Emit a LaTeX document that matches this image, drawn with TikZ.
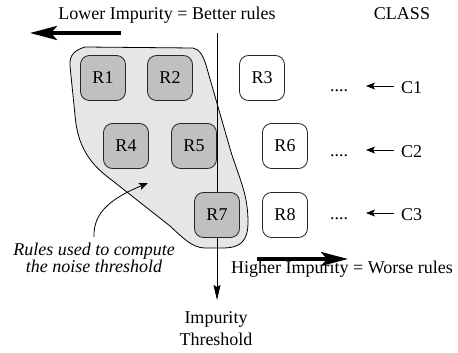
\documentclass[tikz,border=0pt]{standalone}
\usepackage{fontspec}
\setmainfont{Liberation Serif}
\usetikzlibrary{arrows.meta}
\definecolor{blobgray}{HTML}{E6E6E6}
\definecolor{boxgray}{HTML}{C0C0C0}
\begin{document}
\begin{tikzpicture}[x=1pt,y=-1pt,
  every node/.style={font=\fontsize{18}{20}\selectfont, inner sep=0pt},
  rulebox/.style={draw=black!85, line width=0.8pt, rounded corners=9pt,
    minimum width=45pt, minimum height=45pt},
  inbox/.style={rulebox, fill=boxgray},
  outbox/.style={rulebox, fill=white},
  bigarrow/.style={line width=3.5pt, -{Stealth[length=27pt,width=14pt,inset=6pt]}},
  smallarrow/.style={line width=0.8pt, -{Stealth[length=9pt,width=7pt,inset=2pt]}},
  outline/.style={line width=0.8pt, draw=black}
]
\useasboundingbox (0,0) rectangle (458,353);

% noise-threshold region
\path[outline, fill=blobgray] (85,47) -- (193,48)
  .. controls (200,49) and (203,56) .. (206,65)
  -- (231,152)
  .. controls (240,180) and (248,195) .. (248,222)
  .. controls (248,242) and (240,248) .. (222,248)
  -- (205,248)
  .. controls (192,248) and (182,237) .. (170,226)
  -- (104,174)
  .. controls (85,158) and (77,140) .. (75,115)
  -- (70,66)
  .. controls (69,55) and (75,50) .. (85,47) -- cycle;

% impurity threshold line
\coordinate (vtop) at (217,33);
\node[align=center, font=\fontsize{18}{22}\selectfont, anchor=base] (thr) at (216,345) {Impurity\\Threshold};
\coordinate (vbot) at (217,300);
\draw[line width=0.8pt, -{Stealth[length=15pt,width=7pt,inset=2pt]}] (vtop) -- (vbot);

% rules
\node[inbox]  (r1) at (103,78)  {R1};
\node[inbox]  (r2) at (170,78)  {R2};
\node[outbox] (r3) at (262,78)  {R3};
\node[inbox]  (r4) at (126,146) {R4};
\node[inbox]  (r5) at (194,146) {R5};
\node[outbox] (r6) at (285,146) {R6};
\node[inbox]  (r7) at (217,215) {R7};
\node[outbox] (r8) at (285,215) {R8};

% header texts
\node[anchor=base] (lower) at (167,20) {Lower Impurity = Better rules};
\node[anchor=base] (class) at (402,20) {CLASS};
\coordinate (la1) at (121,33);
\coordinate (la2) at (30,33);
\draw[bigarrow] (la1) -- (la2);

% classes
\node[anchor=base] (d1) at (339,92) {....};
\node[anchor=base] (d2) at (339,156) {....};
\node[anchor=base] (d3) at (339,219) {....};
\node[anchor=base west] (c1) at (401,93) {C1};
\node[anchor=base west] (c2) at (401,157) {C2};
\node[anchor=base west] (c3) at (401,220) {C3};
\coordinate (a1s) at (394,86);  \coordinate (a1e) at (366,86);
\coordinate (a2s) at (394,150); \coordinate (a2e) at (366,150);
\coordinate (a3s) at (394,213); \coordinate (a3e) at (366,213);
\draw[smallarrow] (a1s) -- (a1e);
\draw[smallarrow] (a2s) -- (a2e);
\draw[smallarrow] (a3s) -- (a3e);

% worse rules arrow
\coordinate (ra1) at (257,259);
\coordinate (ra2) at (348,259);
\draw[bigarrow] (ra1) -- (ra2);
\node[anchor=base] (higher) at (342,273) {Higher Impurity = Worse rules};

% annotation
\node[align=center, anchor=base, font=\itshape\fontsize{18}{17}\selectfont] (note) at (94,272)
  {Rules used to compute\\the noise threshold};
\coordinate (nstart) at (94,237);
\coordinate (ntip) at (148,183);
\draw[smallarrow] (nstart) .. controls (93,212) and (112,198) .. (ntip);
\end{tikzpicture}
\end{document}
